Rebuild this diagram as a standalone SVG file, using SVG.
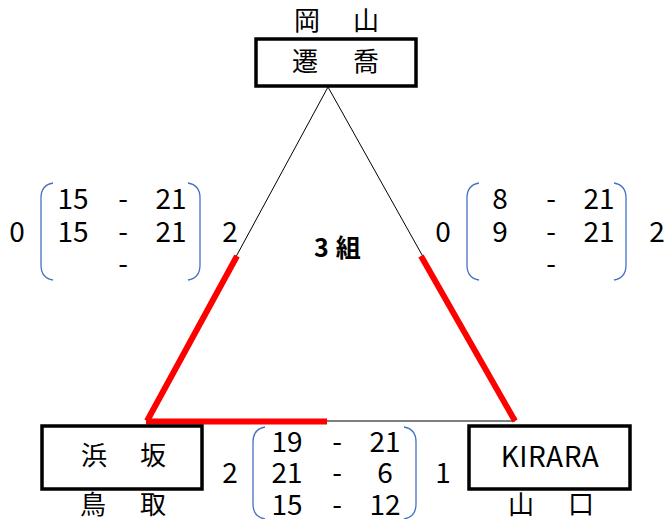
<svg xmlns="http://www.w3.org/2000/svg" width="665" height="519" viewBox="0 0 665 519">
<style>
.t{font-family:"Noto Sans CJK JP","Noto Sans",sans-serif;font-size:28px;fill:#000;text-anchor:middle}
.j{font-family:"Noto Sans CJK JP",sans-serif;font-size:26px;fill:#000;text-anchor:middle}
.box{fill:#fff;stroke:#000;stroke-width:3.5}
.br{fill:none;stroke:#4472C4;stroke-width:1.3}
.thin{stroke:#000;stroke-width:1;fill:none}
.red{stroke:#FF0000;stroke-width:6;fill:none}
</style>
<rect width="665" height="519" fill="#fff"/>
<g id="connectors">
<line class="thin" x1="328" y1="87" x2="147" y2="421"/>
<line class="thin" x1="328" y1="87" x2="515" y2="421"/>
<line class="thin" x1="147" y1="421" x2="515" y2="421"/>
<line class="red" x1="237" y1="256" x2="147" y2="421"/>
<line class="red" x1="421" y1="256" x2="515" y2="421"/>
<line class="red" x1="146" y1="421.5" x2="327" y2="421.5"/>
</g>
<g id="node-okayama">
<text class="j" x="307" y="30">岡</text>
<text class="j" x="366" y="30">山</text>
<rect class="box" x="256" y="39" width="160" height="47"/>
<text class="j" x="305" y="71">遷</text>
<text class="j" x="366" y="71">喬</text>
</g>
<g id="node-tottori">
<rect class="box" x="42" y="426" width="160" height="63"/>
<text class="j" x="94" y="465">浜</text>
<text class="j" x="153" y="465">坂</text>
<text class="j" x="93" y="514">鳥</text>
<text class="j" x="153" y="514">取</text>
</g>
<g id="node-yamaguchi">
<rect class="box" x="469" y="426" width="161" height="63"/>
<text class="t" x="550" y="467" font-size="29" letter-spacing="0.5">KIRARA</text>
<text class="j" x="521" y="514">山</text>
<text class="j" x="581" y="514">口</text>
</g>
<g id="label-group">
<text x="314" y="257" style="font-family:'Noto Sans CJK JP',sans-serif;font-size:25px;font-weight:bold" letter-spacing="7">3組</text>
</g>
<g id="score-left">
<path class="br" d="M53,183 Q41,185 41,198 L41,265 Q41,278 53,280"/>
<path class="br" d="M188,183 Q200,185 200,198 L200,265 Q200,278 188,280"/>
<text class="t" x="17" y="242">0</text>
<text class="t" x="230" y="242">2</text>
<text class="t" x="73" y="209">15</text>
<text class="t" x="123" y="209">-</text>
<text class="t" x="171" y="209">21</text>
<text class="t" x="73" y="242">15</text>
<text class="t" x="123" y="242">-</text>
<text class="t" x="171" y="242">21</text>
<text class="t" x="123" y="274">-</text>
</g>
<g id="score-right">
<path class="br" d="M479,183 Q467,185 467,198 L467,265 Q467,278 479,280"/>
<path class="br" d="M614,183 Q626,185 626,198 L626,265 Q626,278 614,280"/>
<text class="t" x="443" y="242">0</text>
<text class="t" x="657" y="242">2</text>
<text class="t" x="500" y="209">8</text>
<text class="t" x="551" y="209">-</text>
<text class="t" x="599" y="209">21</text>
<text class="t" x="500" y="242">9</text>
<text class="t" x="551" y="242">-</text>
<text class="t" x="599" y="242">21</text>
<text class="t" x="551" y="274">-</text>
</g>
<g id="score-bottom">
<path class="br" d="M265,427 Q253,429 253,442 L253,504 Q253,517 265,519"/>
<path class="br" d="M404,427 Q416,429 416,442 L416,504 Q416,517 404,519"/>
<text class="t" x="230" y="483">2</text>
<text class="t" x="443" y="483">1</text>
<text class="t" x="287" y="452">19</text>
<text class="t" x="337" y="452">-</text>
<text class="t" x="385" y="452">21</text>
<text class="t" x="287" y="483">21</text>
<text class="t" x="337" y="483">-</text>
<text class="t" x="385" y="483">6</text>
<text class="t" x="287" y="515">15</text>
<text class="t" x="337" y="515">-</text>
<text class="t" x="385" y="515">12</text>
</g>
</svg>
